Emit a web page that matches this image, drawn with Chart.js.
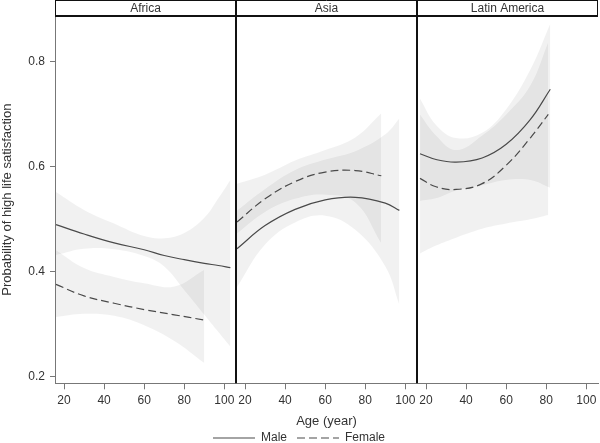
<!DOCTYPE html>
<html>
<head>
<meta charset="utf-8">
<script src="https://cdn.jsdelivr.net/npm/chart.js@4.4.0/dist/chart.umd.min.js"></script>
<style>
  html, body { margin: 0; padding: 0; background: #fff; }
</style>
</head>
<body>
<canvas id="myChart" width="600" height="443"></canvas>
<script>
var regions = ['Africa', 'Asia', 'Latin America'];
var sexes = ['Male', 'Female'];
var ageTicks = [20, 40, 60, 80, 100];
var probTicks = [0.2, 0.4, 0.6, 0.8];

// Africa
var africaMaleAge  = [16, 30, 45, 60, 70, 80, 90, 97, 103];
var africaMaleFit  = [0.490, 0.472, 0.455, 0.442, 0.431, 0.423, 0.416, 0.412, 0.408];
var africaMaleLow  = [0.432, 0.444, 0.443, 0.430, 0.410, 0.365, 0.318, 0.285, 0.257];
var africaMaleHigh = [0.552, 0.518, 0.492, 0.468, 0.464, 0.474, 0.503, 0.540, 0.575];
var africaFemaleAge  = [16, 30, 45, 60, 75, 90];
var africaFemaleFit  = [0.376, 0.354, 0.340, 0.328, 0.318, 0.308];
var africaFemaleLow  = [0.314, 0.320, 0.316, 0.298, 0.268, 0.226];
var africaFemaleHigh = [0.441, 0.407, 0.390, 0.378, 0.372, 0.404];

// Asia
var asiaMaleAge  = [16, 30, 45, 60, 75, 90, 97];
var asiaMaleFit  = [0.444, 0.488, 0.519, 0.537, 0.542, 0.531, 0.517];
var asiaMaleLow  = [0.371, 0.452, 0.494, 0.507, 0.480, 0.410, 0.337];
var asiaMaleHigh = [0.517, 0.558, 0.594, 0.614, 0.630, 0.662, 0.692];
var asiaFemaleAge  = [16, 30, 45, 60, 75, 88];
var asiaFemaleFit  = [0.495, 0.539, 0.572, 0.590, 0.593, 0.583];
var asiaFemaleLow  = [0.473, 0.514, 0.539, 0.547, 0.532, 0.454];
var asiaFemaleHigh = [0.568, 0.585, 0.612, 0.632, 0.656, 0.702];

// Latin America
var latamMaleAge  = [17, 25, 35, 48, 60, 72, 82];
var latamMaleFit  = [0.625, 0.614, 0.609, 0.617, 0.643, 0.690, 0.748];
var latamMaleLow  = [0.535, 0.540, 0.555, 0.565, 0.575, 0.575, 0.560];
var latamMaleHigh = [0.730, 0.680, 0.655, 0.665, 0.710, 0.785, 0.873];
var latamFemaleAge  = [17, 25, 35, 48, 60, 72, 81];
var latamFemaleFit  = [0.578, 0.562, 0.557, 0.568, 0.603, 0.655, 0.700];
var latamFemaleLow  = [0.435, 0.450, 0.465, 0.482, 0.492, 0.500, 0.508];
var latamFemaleHigh = [0.700, 0.660, 0.632, 0.660, 0.700, 0.755, 0.838];

var panels = [
  [[africaMaleAge, africaMaleFit, africaMaleLow, africaMaleHigh],
   [africaFemaleAge, africaFemaleFit, africaFemaleLow, africaFemaleHigh]],
  [[asiaMaleAge, asiaMaleFit, asiaMaleLow, asiaMaleHigh],
   [asiaFemaleAge, asiaFemaleFit, asiaFemaleLow, asiaFemaleHigh]],
  [[latamMaleAge, latamMaleFit, latamMaleLow, latamMaleHigh],
   [latamFemaleAge, latamFemaleFit, latamFemaleLow, latamFemaleHigh]]
];

var lineColor = '#4a4a4a';
var bandColor = 'rgba(0,0,0,0.055)';
var dashes = [[], [8, 4]];
var textColor = '#333';
var fontFamily = '"Liberation Sans", Arial, sans-serif';

Chart.defaults.font.family = fontFamily;
Chart.defaults.color = textColor;

function pts(xs, ys) {
  return xs.map(function (x, i) { return {x: x, y: ys[i]}; });
}

var datasets = [];
panels.forEach(function (panel, p) {
  panel.forEach(function (s, k) {
    var axis = 'x' + p;
    // confidence band: upper filled down to lower
    datasets.push({
      label: regions[p] + ' ' + sexes[k] + ' upper',
      data: pts(s[0], s[3]), xAxisID: axis,
      borderWidth: 0, pointRadius: 0, tension: 0.4,
      backgroundColor: bandColor, fill: '+1', order: 2
    });
    datasets.push({
      label: regions[p] + ' ' + sexes[k] + ' lower',
      data: pts(s[0], s[2]), xAxisID: axis,
      borderWidth: 0, pointRadius: 0, tension: 0.4, fill: false, order: 2
    });
    datasets.push({
      label: sexes[k],
      data: pts(s[0], s[1]), xAxisID: axis,
      borderColor: lineColor, borderWidth: 1.2, borderDash: dashes[k],
      pointRadius: 0, tension: 0.4, fill: false, order: 0
    });
  });
});

function xScale(i) {
  return {
    type: 'linear', position: 'bottom', stack: 'age', stackWeight: 1,
    min: 15.5, max: 105.8,
    afterBuildTicks: function (s) { s.ticks = ageTicks.map(function (v) { return {value: v}; }); },
    afterFit: function (s) { s.height = 38.7; s.paddingLeft = 0; s.paddingRight = 0; },
    ticks: {font: {size: 12}, color: textColor, maxRotation: 0, autoSkip: false, padding: 4.5},
    grid: {drawOnChartArea: false, drawTicks: true, tickLength: 6, color: '#777'},
    border: {display: true, color: '#777'},
    title: {display: i === 1, text: 'Age (year)', font: {size: 13}, color: textColor,
            padding: {top: 0, bottom: -7.5}}
  };
}

var stripPlugin = {
  id: 'strips',
  afterDraw: function (chart) {
    var ctx = chart.ctx, a = chart.chartArea;
    ctx.save();
    ctx.fillStyle = textColor;
    ctx.font = '12px ' + fontFamily;
    ctx.textAlign = 'center';
    ctx.textBaseline = 'middle';
    regions.forEach(function (name, i) {
      var s = chart.scales['x' + i];
      ctx.fillText(name, (s.left + s.right) / 2, a.top / 2 + 0.5);
    });
    ctx.strokeStyle = '#111';
    ctx.lineWidth = 1;
    ctx.beginPath();
    ctx.moveTo(a.left, 0.5); ctx.lineTo(a.right, 0.5);
    ctx.moveTo(a.left + 0.5, 0); ctx.lineTo(a.left + 0.5, a.top);
    ctx.moveTo(a.right - 0.5, 0); ctx.lineTo(a.right - 0.5, a.top);
    ctx.stroke();
    ctx.lineWidth = 2;
    ctx.beginPath();
    ctx.moveTo(a.left, a.top); ctx.lineTo(a.right, a.top);
    [1, 2].forEach(function (i) {
      var x = Math.round(chart.scales['x' + i].left);
      ctx.moveTo(x, 0); ctx.lineTo(x, a.bottom);
    });
    ctx.stroke();
    ctx.restore();
  }
};

var ctx = document.getElementById('myChart').getContext('2d');
var chart = new Chart(ctx, {
  type: 'line',
  data: {datasets: datasets},
  plugins: [stripPlugin],
  options: {
    responsive: false,
    animation: false,
    devicePixelRatio: 1,
    layout: {padding: {top: 16, right: 2, left: 0, bottom: -11}},
    scales: {
      y: {
        min: 0.1874, max: 0.8876, position: 'left',
        afterBuildTicks: function (s) { s.ticks = probTicks.map(function (v) { return {value: v}; }); },
        afterFit: function (s) { s.width = 55; },
        ticks: {font: {size: 12}, color: textColor, padding: 5,
                callback: function (v) { return v.toFixed(1); }},
        grid: {drawOnChartArea: false, drawTicks: true, tickLength: 5, color: '#777'},
        border: {display: true, color: '#777'},
        title: {display: true, text: 'Probability of high life satisfaction',
                font: {size: 13}, color: textColor, padding: {top: 0, bottom: 0}}
      },
      x0: xScale(0),
      x1: xScale(1),
      x2: xScale(2)
    },
    plugins: {
      title: {display: false},
      tooltip: {enabled: false},
      legend: {
        position: 'bottom',
        onClick: null,
        labels: {
          usePointStyle: true, pointStyleWidth: 42, padding: 10,
          font: {size: 12}, color: textColor,
          generateLabels: function () {
            return sexes.map(function (name, k) {
              return {text: name, pointStyle: 'line', strokeStyle: lineColor, fillStyle: lineColor,
                      lineWidth: 1.2, lineDash: dashes[k], hidden: false, fontColor: textColor};
            });
          }
        }
      }
    }
  }
});
</script>
</body>
</html>
